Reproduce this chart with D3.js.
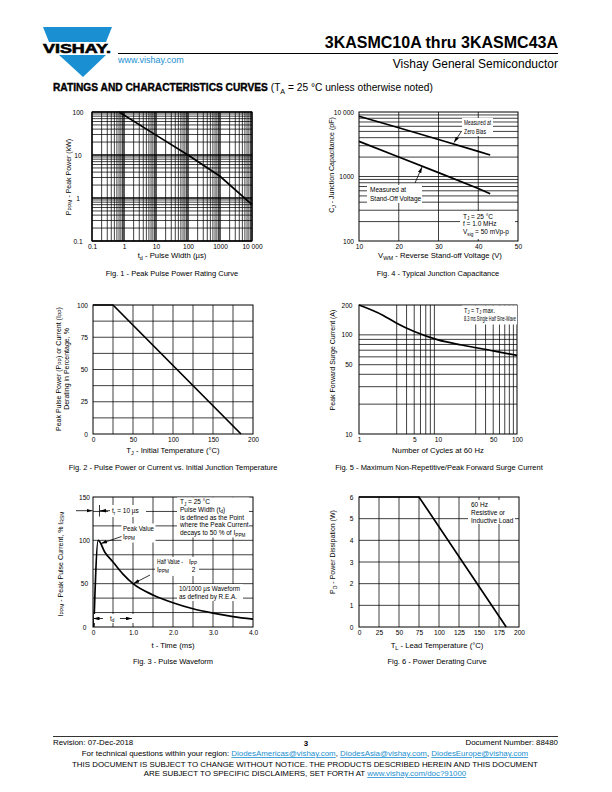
<!DOCTYPE html>
<html><head><meta charset="utf-8">
<script src="https://cdn.jsdelivr.net/npm/d3@7"></script>
<style>
body{margin:0;background:#fff}
svg{display:block}
text{font-family:"Liberation Sans",Arial,Helvetica,sans-serif;fill:#000}
</style>
</head><body>
<svg id="c" width="612" height="792"></svg>
<script>
// ---------------- DATA ----------------
const fig1Width = [0.7, 10, 100, 1000, 10000];
const fig1Power = [100, 29, 10, 3.2, 0.7];
const fig1XTicks = [0.1, 1, 10, 100, 1000, 10000];
const fig1XLabels = ["0.1", "1", "10", "100", "1000", "10 000"];
const fig1YTicks = [0.1, 1, 10, 100];
const fig1YLabels = ["0.1", "1", "10", "100"];

const fig2Temp = [0, 25, 185];
const fig2Pct = [100, 100, 0];
const fig2XTicks = [0, 50, 100, 150, 200];
const fig2YTicks = [0, 25, 50, 75, 100];

const fig3Time = [0.02, 0.13, 0.3, 0.5, 0.75, 1.0, 1.5, 2.0, 2.5, 3.0, 3.5, 4.0];
const fig3Current = [0, 100, 86, 75, 61, 50, 37, 28, 21, 16, 12, 9];
const fig3XTicks = [0, 1, 2, 3, 4];
const fig3XLabels = ["0", "1.0", "2.0", "3.0", "4.0"];
const fig3YTicks = [0, 50, 100, 150];

const fig4Voltage = [10, 20, 30, 40, 43];
const fig4ZeroBias = [8600, 5700, 3750, 2450, 2150];
const fig4StandOff = [3500, 2000, 1150, 650, 540];
const fig4XTicks = [10, 20, 30, 40, 50];
const fig4YTicks = [100, 1000, 10000];
const fig4YLabels = ["100", "1000", "10 000"];

const fig5Cycles = [1, 2, 3, 5, 10, 20, 50, 100];
const fig5Current = [200, 158, 131, 108, 89, 79, 69, 62];
const fig5XTicks = [1, 5, 10, 50, 100];
const fig5YTicks = [10, 50, 100, 200];

const fig6Temp = [0, 75, 184];
const fig6Power = [6, 6, 0];
const fig6XTicks = [0, 25, 50, 75, 100, 125, 150, 175, 200];
const fig6YTicks = [0, 1, 2, 3, 4, 5, 6];

// ---------------- HELPERS ----------------
const svg = d3.select("#c");
const FONT = '"Liberation Sans",Arial,Helvetica,sans-serif';
const TITLE = 7.7;
const defs = svg.append("defs");
defs.append("marker").attr("id", "arr").attr("viewBox", "0 0 10 6")
  .attr("refX", 10).attr("refY", 3).attr("markerWidth", 6).attr("markerHeight", 3.6)
  .attr("markerUnits", "userSpaceOnUse").attr("orient", "auto")
  .append("path").attr("d", "M0,0 L10,3 L0,6 z").attr("fill", "#000");

function logGrid(lo, hi, skip) {
  const out = [];
  for (let e = Math.floor(Math.log10(lo)); e <= Math.ceil(Math.log10(hi)); e++) {
    for (let k = 1; k <= 9; k++) {
      const v = k * Math.pow(10, e);
      if (v >= lo * 0.999 && v <= hi * 1.001 && !(skip && skip(k, e))) out.push(v);
    }
  }
  return out;
}
function range(a, b, s) { const o = []; for (let v = a; v <= b + 1e-9; v += s) o.push(v); return o; }

// rich text: parts = [[str, 'sub'|undefined], ...]
function rich(g, x, y, parts, opt) {
  opt = opt || {};
  const fs = opt.size || 7;
  const t = g.append("text").attr("x", x).attr("y", y).attr("font-size", fs)
    .attr("text-anchor", opt.anchor || "start");
  if (opt.rotate) t.attr("transform", `rotate(-90,${x},${y})`);
  if (opt.len) t.attr("textLength", opt.len).attr("lengthAdjust", "spacingAndGlyphs");
  let shifted = false;
  parts.forEach(p => {
    const s = t.append("tspan").text(p[0]);
    if (p[1] === "sub") {
      s.attr("font-size", fs * 0.72).attr("dy", shifted ? 0 : fs * 0.28); shifted = true;
    } else if (shifted) { s.attr("dy", -fs * 0.28); shifted = false; }
  });
  return t;
}

function panel(o) {
  const g = svg.append("g");
  const x = o.x, y = o.y;
  const [x0, x1] = x.range(), [y0, y1] = y.range();
  g.append("g").selectAll("line").data(o.gx).join("line")
    .attr("x1", d => x(d)).attr("x2", d => x(d)).attr("y1", y0).attr("y2", y1)
    .attr("stroke", "#000").attr("stroke-width", d => (o.thickX && o.thickX(d)) ? 1.3 : 0.75);
  g.append("g").selectAll("line").data(o.gy).join("line")
    .attr("y1", d => y(d)).attr("y2", d => y(d)).attr("x1", x0).attr("x2", x1)
    .attr("stroke", "#000").attr("stroke-width", d => (o.thickY && o.thickY(d)) ? 1.3 : 0.75);
  g.append("rect").attr("x", x0).attr("y", y1).attr("width", x1 - x0).attr("height", y0 - y1)
    .attr("fill", "none").attr("stroke", "#000").attr("stroke-width", 1);
  const ax = g.append("g").attr("transform", `translate(0,${y0})`)
    .call(d3.axisBottom(x).tickValues(o.xt).tickFormat((d, i) => o.xl ? o.xl[i] : d).tickSize(0).tickPadding(3.5));
  ax.select(".domain").remove();
  ax.attr("font-family", FONT).attr("font-size", 6.6);
  const ay = g.append("g").attr("transform", `translate(${x0},0)`)
    .call(d3.axisLeft(y).tickValues(o.yt).tickFormat((d, i) => o.yl ? o.yl[i] : d).tickSize(0).tickPadding(o.yPad || 5));
  ay.select(".domain").remove();
  ay.attr("font-family", FONT).attr("font-size", 6.6);
  if (o.yAnchor) ay.selectAll("text").attr("text-anchor", o.yAnchor).attr("x", o.yAnchorX - x0);
  return g;
}
function curve(g, x, y, xs, ys, c) {
  const pts = xs.map((d, i) => [d, ys[i]]);
  g.append("path").attr("d", d3.line().x(d => x(d[0])).y(d => y(d[1])).curve(c || d3.curveLinear)(pts))
    .attr("fill", "none").attr("stroke", "#000").attr("stroke-width", 1.7);
}
function box(g, x, y, w, h) {
  g.append("rect").attr("x", x).attr("y", y).attr("width", w).attr("height", h).attr("fill", "#fff");
}
function arrow(g, x1, y1, x2, y2) {
  g.append("line").attr("x1", x1).attr("y1", y1).attr("x2", x2).attr("y2", y2)
    .attr("stroke", "#000").attr("stroke-width", 0.8).attr("marker-end", "url(#arr)");
}
function caption(txt, cx, y) {
  svg.append("text").attr("x", cx).attr("y", y).attr("text-anchor", "middle").attr("font-size", 7.5).text(txt);
}

// ---------------- HEADER ----------------
const blue = "#1a8fd1";
svg.append("path").attr("d", "M43,27 L112,27 L106,42 L49,42 Z").attr("fill", blue);
svg.append("path").attr("d", "M59,55 L106,55 L83,77 Z").attr("fill", blue);
svg.append("text").attr("x", 43).attr("y", 53.3).attr("font-size", 13.5).attr("font-weight", "bold")
  .attr("stroke", "#000").attr("stroke-width", 0.6)
  .attr("textLength", 68).attr("lengthAdjust", "spacingAndGlyphs").text("VISHAY.");
svg.append("text").attr("x", 558).attr("y", 48).attr("text-anchor", "end").attr("font-size", 16)
  .attr("font-weight", "bold").text("3KASMC10A thru 3KASMC43A");
svg.append("line").attr("x1", 118).attr("x2", 558).attr("y1", 53.5).attr("y2", 53.5).attr("stroke", "#000").attr("stroke-width", 1);
svg.append("text").attr("x", 118).attr("y", 62.5).attr("font-size", 9).style("fill", blue).text("www.vishay.com");
svg.append("text").attr("x", 558).attr("y", 68).attr("text-anchor", "end").attr("font-size", 12).text("Vishay General Semiconductor");
{
  const t = svg.append("text").attr("x", 53).attr("y", 91).attr("font-size", 10.2);
  t.append("tspan").attr("font-weight", "bold").attr("stroke", "#000").attr("stroke-width", 0.35).text("RATINGS AND CHARACTERISTICS CURVES");
  t.append("tspan").text(" (T");
  t.append("tspan").attr("font-size", 7.2).attr("dy", 2.6).text("A");
  t.append("tspan").attr("dy", -2.6).text(" = 25 °C unless otherwise noted)");
}

// ---------------- FIG 1 ----------------
{
  const x = d3.scaleLog().domain([0.1, 10000]).range([92, 252]);
  const y = d3.scaleLog().domain([0.1, 100]).range([241, 112]);
  const g = panel({
    x, y, gx: logGrid(0.1, 10000), gy: logGrid(0.1, 100),
    thickX: d => Math.abs(Math.log10(d) % 1) < 1e-6, thickY: d => Math.abs(Math.log10(d) % 1) < 1e-6,
    xt: fig1XTicks, xl: fig1XLabels, yt: fig1YTicks, yl: fig1YLabels, yAnchor: "middle", yAnchorX: 78
  });
  curve(g, x, y, fig1Width, fig1Power);
  rich(g, 172, 258, [["t"], ["d", "sub"], [" - Pulse Width (µs)"]], { anchor: "middle", size: TITLE });
  rich(g, 70.5, 177, [["P"], ["PPM", "sub"], [" - Peak Power (kW)"]], { anchor: "middle", size: 7, rotate: true });
  caption("Fig. 1 - Peak Pulse Power Rating Curve", 172, 276);
}

// ---------------- FIG 4 ----------------
{
  const x = d3.scaleLinear().domain([10, 50]).range([359, 518]);
  const y = d3.scaleLog().domain([100, 10000]).range([241, 112]);
  const g = panel({
    x, y, gx: [20, 30, 40], gy: logGrid(200, 9000),
    xt: fig4XTicks, yt: fig4YTicks, yl: fig4YLabels, yPad: 5
  });
  curve(g, x, y, fig4Voltage, fig4ZeroBias);
  curve(g, x, y, fig4Voltage, fig4StandOff);
  box(g, 462, 118, 31, 18);
  rich(g, 464, 125, [["Measured at"]], { size: 6.5, len: 27 });
  rich(g, 464, 133.5, [["Zero Bias"]], { size: 6.5, len: 22 });
  arrow(g, 461, 132, 454, 142.5);
  box(g, 367, 185, 55, 18);
  rich(g, 370, 192, [["Measured at"]], { size: 6.5 });
  rich(g, 370, 200.5, [["Stand-Off Voltage"]], { size: 6.5 });
  arrow(g, 415, 183, 422, 167);
  box(g, 460, 211, 55, 28);
  rich(g, 463, 218.5, [["T"], ["J", "sub"], [" = 25 °C"]], { size: 6.5 });
  rich(g, 463, 226, [["f = 1.0 MHz"]], { size: 6.5 });
  rich(g, 463, 234, [["V"], ["sig", "sub"], [" = 50 mVp-p"]], { size: 6.5 });
  rich(g, 440, 258, [["V"], ["WM", "sub"], [" - Reverse Stand-off Voltage (V)"]], { anchor: "middle", size: TITLE });
  rich(g, 334, 165, [["C"], ["J", "sub"], [" - Junction Capacitance (pF)"]], { anchor: "middle", size: 7, rotate: true });
  caption("Fig. 4 - Typical Junction Capacitance", 438, 276);
}

// ---------------- FIG 2 ----------------
{
  const x = d3.scaleLinear().domain([0, 200]).range([93, 253]);
  const y = d3.scaleLinear().domain([0, 100]).range([434, 305]);
  const g = panel({
    x, y, gx: range(25, 175, 25), gy: range(12.5, 87.5, 12.5),
    xt: fig2XTicks, yt: fig2YTicks, yPad: 5
  });
  curve(g, x, y, fig2Temp, fig2Pct);
  rich(g, 173, 452.5, [["T"], ["J", "sub"], [" - Initial Temperature (°C)"]], { anchor: "middle", size: TITLE });
  rich(g, 60.5, 369, [["Peak Pulse Power (P"], ["PP", "sub"], [") or Current (I"], ["PP", "sub"], [")"]], { anchor: "middle", size: 7, rotate: true });
  rich(g, 68.5, 369, [["Derating in Percentage, %"]], { anchor: "middle", size: 7, rotate: true });
  caption("Fig. 2 - Pulse Power or Current vs. Initial Junction Temperature", 173, 470);
}

// ---------------- FIG 5 ----------------
{
  const x = d3.scaleLog().domain([1, 100]).range([359, 517]);
  const y = d3.scaleLog().domain([10, 200]).range([434, 305]);
  const g = panel({
    x, y, gx: logGrid(3, 90, (k, e) => k < 3), gy: logGrid(20, 100),
    xt: fig5XTicks, yt: fig5YTicks, yPad: 6.5
  });
  curve(g, x, y, fig5Cycles, fig5Current, d3.curveMonotoneX);
  box(g, 462, 305.5, 55, 19);
  rich(g, 464, 312.5, [["T"], ["J", "sub"], [" = T"], ["J", "sub"], [" max."]], { size: 6.5, len: 31 });
  rich(g, 464, 320.5, [["8.3 ms Single Half Sine-Wave"]], { size: 6.5, len: 52 });
  rich(g, 438, 452.5, [["Number of Cycles at 60 Hz"]], { anchor: "middle", size: TITLE });
  rich(g, 335, 360, [["Peak Forward Surge Current (A)"]], { anchor: "middle", size: 7, rotate: true });
  caption("Fig. 5 - Maximum Non-Repetitive/Peak Forward Surge Current", 439, 470);
}

// ---------------- FIG 3 ----------------
{
  const x = d3.scaleLinear().domain([0, 4]).range([93, 253]);
  const y = d3.scaleLinear().domain([0, 150]).range([627, 497]);
  const g = panel({
    x, y, gx: range(0.5, 3.5, 0.5), gy: range(50 / 3, 150 - 50 / 3, 50 / 3),
    xt: fig3XTicks, xl: fig3XLabels, yt: fig3YTicks, yAnchor: "middle", yAnchorX: 84.5
  });
  curve(g, x, y, fig3Time, fig3Current, d3.curveMonotoneX);
  // rise-time marker
  box(g, 108, 505, 38, 12);
  arrow(g, 76, 510.7, 92.5, 510.7);
  g.append("line").attr("x1", 99.5).attr("x2", 99.5).attr("y1", 505).attr("y2", 516.5).attr("stroke", "#000").attr("stroke-width", 0.8);
  arrow(g, 110, 510.7, 100, 510.7);
  rich(g, 112, 513, [["t"], ["r", "sub"], [" = 10 µs"]], { size: 6.5 });
  // definition box
  box(g, 177, 497.5, 72, 40);
  rich(g, 180, 504, [["T"], ["J", "sub"], [" = 25 °C"]], { size: 6.5 });
  rich(g, 180, 511.5, [["Pulse Width (t"], ["d", "sub"], [")"]], { size: 6.5 });
  rich(g, 180, 519.5, [["is defined as the Point"]], { size: 6.5 });
  rich(g, 180, 527, [["where the Peak Current"]], { size: 6.5 });
  rich(g, 180, 535, [["decays to 50 % of I"], ["PPM", "sub"]], { size: 6.5 });
  // peak value
  box(g, 121.5, 523.5, 34, 19);
  rich(g, 123, 530.5, [["Peak Value"]], { size: 6.5, len: 31 });
  rich(g, 123, 538.5, [["I"], ["PPM", "sub"]], { size: 6.5 });
  arrow(g, 121.5, 536.5, 101, 543.5);
  // half value
  box(g, 155, 557, 44, 19);
  rich(g, 157, 563.5, [["Half Value -"]], { size: 6.5, len: 26 });
  rich(g, 157, 571.5, [["I"], ["PPM", "sub"]], { size: 6.5 });
  rich(g, 193, 563.5, [["I"], ["PP", "sub"]], { size: 6.5, anchor: "middle" });
  rich(g, 193.5, 572, [["2"]], { size: 6.5, anchor: "middle" });
  arrow(g, 150, 575, 133.5, 583.5);
  // waveform
  box(g, 177, 584, 66, 17);
  rich(g, 179, 590.5, [["10/1000 µs Waveform"]], { size: 6.5, len: 61 });
  rich(g, 179, 598.5, [["as defined by R.E.A."]], { size: 6.5, len: 58 });
  // td marker
  box(g, 94, 614, 40, 9);
  arrow(g, 103, 618.5, 93.5, 618.5);
  rich(g, 110, 620.5, [["t"], ["d", "sub"]], { size: 6.5 });
  arrow(g, 120, 618.5, 132, 618.5);
  rich(g, 173, 647.5, [["t - Time (ms)"]], { anchor: "middle", size: TITLE });
  rich(g, 62.5, 564, [["I"], ["PPM", "sub"], [" - Peak Pulse Current, % I"], ["RSM", "sub"]], { anchor: "middle", size: 7, rotate: true });
  caption("Fig. 3 - Pulse Waveform", 173, 664);
}

// ---------------- FIG 6 ----------------
{
  const x = d3.scaleLinear().domain([0, 200]).range([359, 519]);
  const y = d3.scaleLinear().domain([0, 6]).range([627, 497]);
  const g = panel({
    x, y, gx: range(25, 175, 25), gy: range(1, 5, 1),
    xt: fig6XTicks, yt: fig6YTicks, yPad: 5.5
  });
  curve(g, x, y, fig6Temp, fig6Power);
  box(g, 468, 500, 47, 24);
  rich(g, 471, 507, [["60 Hz"]], { size: 6.5 });
  rich(g, 471, 515, [["Resistive or"]], { size: 6.5 });
  rich(g, 471, 522.5, [["Inductive Load"]], { size: 6.5 });
  rich(g, 437, 647.5, [["T"], ["L", "sub"], [" - Lead Temperature (°C)"]], { anchor: "middle", size: TITLE });
  rich(g, 335, 552, [["P"], ["D", "sub"], [" - Power Dissipation (W)"]], { anchor: "middle", size: 7, rotate: true });
  caption("Fig. 6 - Power Derating Curve", 437, 664);
}

// ---------------- FOOTER ----------------
const FS = 7.9;
svg.append("line").attr("x1", 53).attr("x2", 558).attr("y1", 736.5).attr("y2", 736.5).attr("stroke", "#000").attr("stroke-width", 0.8);
svg.append("text").attr("x", 53).attr("y", 744.5).attr("font-size", FS).text("Revision: 07-Dec-2018");
svg.append("text").attr("x", 306).attr("y", 745.5).attr("font-size", FS).attr("font-weight", "bold").attr("text-anchor", "middle").text("3");
svg.append("text").attr("x", 558).attr("y", 744.5).attr("font-size", FS).attr("text-anchor", "end").text("Document Number: 88480");
{
  const t = svg.append("text").attr("x", 305).attr("y", 756).attr("font-size", FS).attr("text-anchor", "middle");
  t.append("tspan").text("For technical questions within your region: ");
  t.append("tspan").style("fill", blue).attr("text-decoration", "underline").text("DiodesAmericas@vishay.com");
  t.append("tspan").text(", ");
  t.append("tspan").style("fill", blue).attr("text-decoration", "underline").text("DiodesAsia@vishay.com");
  t.append("tspan").text(", ");
  t.append("tspan").style("fill", blue).attr("text-decoration", "underline").text("DiodesEurope@vishay.com");
}
svg.append("text").attr("x", 305).attr("y", 767).attr("font-size", FS).attr("text-anchor", "middle")
  .text("THIS DOCUMENT IS SUBJECT TO CHANGE WITHOUT NOTICE. THE PRODUCTS DESCRIBED HEREIN AND THIS DOCUMENT");
{
  const t = svg.append("text").attr("x", 305).attr("y", 776).attr("font-size", FS).attr("text-anchor", "middle");
  t.append("tspan").text("ARE SUBJECT TO SPECIFIC DISCLAIMERS, SET FORTH AT ");
  t.append("tspan").style("fill", blue).attr("text-decoration", "underline").text("www.vishay.com/doc?91000");
}
</script>
</body></html>
